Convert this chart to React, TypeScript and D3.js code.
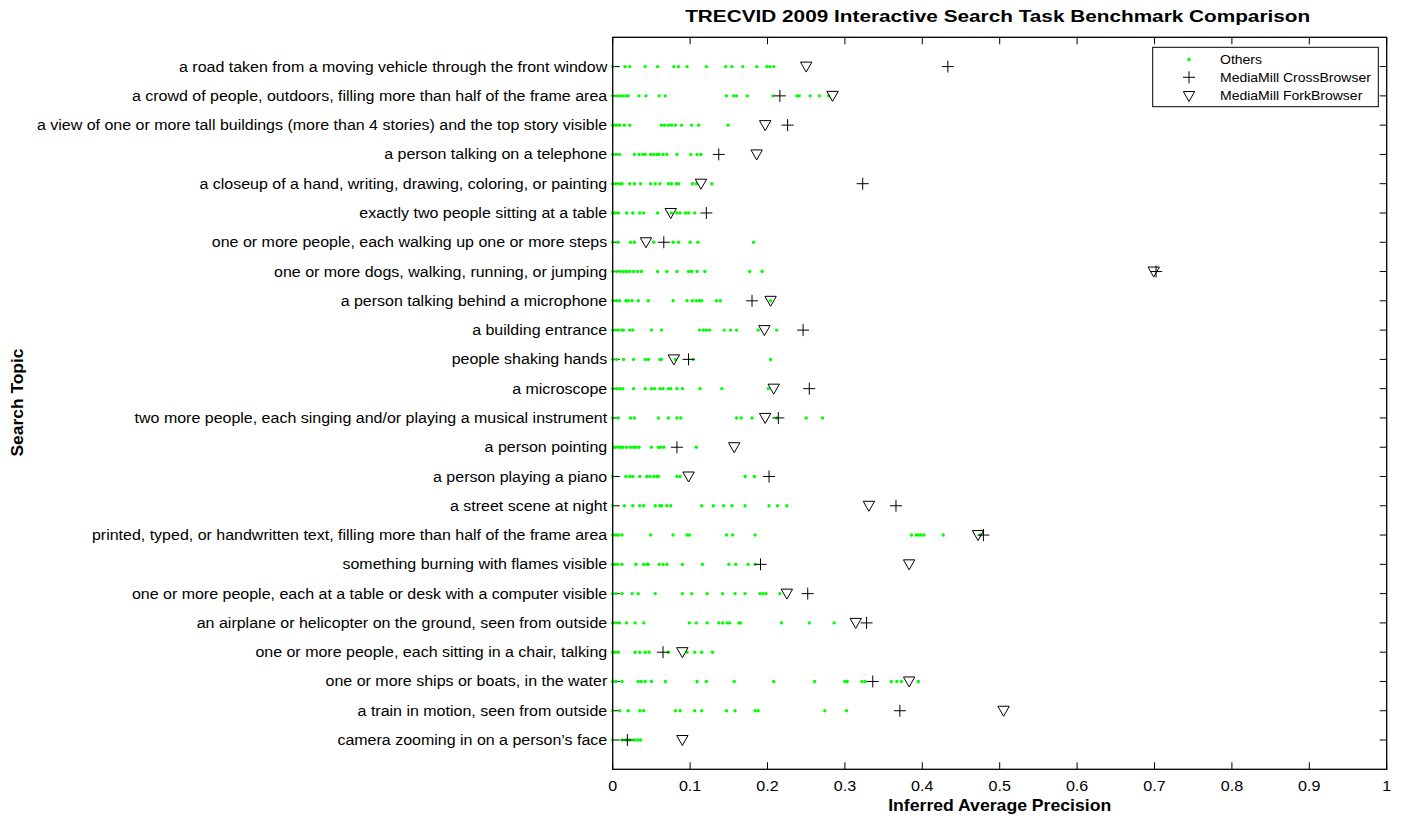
import * as d3 from 'd3';
import React from 'react';

// search topics, top to bottom
const topics = [
  'a road taken from a moving vehicle through the front window',
  'a crowd of people, outdoors, filling more than half of the frame area',
  'a view of one or more tall buildings (more than 4 stories) and the top story visible',
  'a person talking on a telephone',
  'a closeup of a hand, writing, drawing, coloring, or painting',
  'exactly two people sitting at a table',
  'one or more people, each walking up one or more steps',
  'one or more dogs, walking, running, or jumping',
  'a person talking behind a microphone',
  'a building entrance',
  'people shaking hands',
  'a microscope',
  'two more people, each singing and/or playing a musical instrument',
  'a person pointing',
  'a person playing a piano',
  'a street scene at night',
  'printed, typed, or handwritten text, filling more than half of the frame area',
  'something burning with flames visible',
  'one or more people, each at a table or desk with a computer visible',
  'an airplane or helicopter on the ground, seen from outside',
  'one or more people, each sitting in a chair, talking',
  'one or more ships or boats, in the water',
  'a train in motion, seen from outside',
  "camera zooming in on a person\u2019s face",
];

// inferred AP of the other runs, per topic
const others = [
  [0, 0.016, 0.022, 0.042, 0.058, 0.079, 0.085, 0.096, 0.121, 0.146, 0.154, 0.168, 0.186, 0.199, 0.203, 0.208],
  [0, 0.005, 0.009, 0.013, 0.017, 0.02, 0.034, 0.043, 0.06, 0.068, 0.147, 0.156, 0.16, 0.174, 0.207, 0.238, 0.241, 0.255, 0.267, 0.279],
  [0, 0.003, 0.006, 0.009, 0.015, 0.022, 0.063, 0.067, 0.072, 0.076, 0.081, 0.089, 0.102, 0.111, 0.149],
  [0, 0.004, 0.009, 0.028, 0.034, 0.039, 0.042, 0.049, 0.053, 0.057, 0.06, 0.065, 0.07, 0.083, 0.101, 0.109, 0.114],
  [0, 0.004, 0.009, 0.012, 0.022, 0.028, 0.036, 0.049, 0.055, 0.061, 0.072, 0.076, 0.082, 0.085, 0.103, 0.108, 0.128],
  [0, 0.003, 0.007, 0.018, 0.026, 0.035, 0.04, 0.058, 0.076, 0.083, 0.087, 0.094, 0.098, 0.106],
  [0, 0.007, 0.023, 0.028, 0.053, 0.078, 0.085, 0.1, 0.11, 0.182],
  [0, 0.005, 0.01, 0.014, 0.018, 0.022, 0.027, 0.032, 0.037, 0.058, 0.07, 0.083, 0.098, 0.102, 0.109, 0.119, 0.177, 0.193],
  [0, 0.005, 0.009, 0.017, 0.02, 0.025, 0.033, 0.046, 0.078, 0.096, 0.103, 0.108, 0.112, 0.115, 0.134, 0.139, 0.204],
  [0, 0.003, 0.007, 0.012, 0.014, 0.022, 0.026, 0.05, 0.063, 0.112, 0.117, 0.121, 0.125, 0.144, 0.152, 0.16, 0.188, 0.212],
  [0, 0.005, 0.014, 0.027, 0.042, 0.046, 0.061, 0.063, 0.081, 0.104, 0.204],
  [0, 0.005, 0.009, 0.013, 0.027, 0.042, 0.05, 0.054, 0.061, 0.065, 0.072, 0.075, 0.083, 0.09, 0.113, 0.141, 0.201],
  [0, 0.007, 0.023, 0.028, 0.059, 0.072, 0.083, 0.088, 0.16, 0.166, 0.18, 0.212, 0.25, 0.271],
  [0.001, 0.003, 0.007, 0.01, 0.013, 0.018, 0.023, 0.027, 0.03, 0.034, 0.05, 0.059, 0.062, 0.066, 0.108],
  [0, 0.017, 0.022, 0.026, 0.035, 0.044, 0.048, 0.053, 0.057, 0.059, 0.083, 0.087, 0.171, 0.183],
  [0, 0.015, 0.026, 0.035, 0.04, 0.055, 0.061, 0.063, 0.07, 0.075, 0.115, 0.13, 0.143, 0.154, 0.171, 0.202, 0.213, 0.225],
  [0, 0.004, 0.007, 0.012, 0.049, 0.078, 0.096, 0.099, 0.147, 0.155, 0.184, 0.386, 0.392, 0.395, 0.398, 0.402, 0.427, 0.475],
  [0, 0.003, 0.006, 0.012, 0.03, 0.04, 0.044, 0.046, 0.06, 0.065, 0.07, 0.09, 0.116, 0.15, 0.159, 0.175, 0.184],
  [0, 0.004, 0.012, 0.025, 0.033, 0.055, 0.09, 0.102, 0.122, 0.142, 0.158, 0.171, 0.19, 0.194, 0.198, 0.216],
  [0, 0.004, 0.009, 0.018, 0.029, 0.04, 0.099, 0.108, 0.122, 0.137, 0.142, 0.148, 0.151, 0.163, 0.165, 0.218, 0.254, 0.286],
  [0, 0.003, 0.007, 0.029, 0.035, 0.042, 0.047, 0.072, 0.096, 0.106, 0.115, 0.129],
  [0, 0.004, 0.012, 0.033, 0.037, 0.042, 0.05, 0.068, 0.109, 0.121, 0.157, 0.208, 0.261, 0.3, 0.303, 0.322, 0.326, 0.36, 0.367, 0.373, 0.395],
  [0, 0.009, 0.02, 0.035, 0.04, 0.081, 0.087, 0.106, 0.115, 0.147, 0.158, 0.184, 0.188, 0.274, 0.302],
  [0, 0.012, 0.017, 0.022, 0.028, 0.032, 0.036],
];

const crossBrowser = [0.433, 0.216, 0.226, 0.137, 0.323, 0.121, 0.066, 0.702, 0.18, 0.246, 0.098, 0.254, 0.214, 0.083, 0.202, 0.366, 0.479, 0.191, 0.252, 0.328, 0.065, 0.336, 0.371, 0.019];
const forkBrowser = [0.25, 0.284, 0.197, 0.186, 0.114, 0.075, 0.043, 0.699, 0.204, 0.196, 0.079, 0.208, 0.197, 0.157, 0.098, 0.331, 0.472, 0.383, 0.225, 0.314, 0.09, 0.383, 0.505, 0.09];

const xTicks = [0, 0.1, 0.2, 0.3, 0.4, 0.5, 0.6, 0.7, 0.8, 0.9, 1];

const W = 1404;
const H = 816;
const margin = { top: 37.3, right: 17.3, bottom: 46.7, left: 612.7 };
const font = '"Liberation Sans", Arial, Helvetica, sans-serif';
// the reference renders its text wider than Liberation Sans at the same height
const sx = 1.15;

const Cross = ({ x, y }: { x: number; y: number }) => (
  <path d={`M${x - 6},${y}H${x + 6}M${x},${y - 6}V${y + 6}`} stroke="#000" strokeWidth={1} fill="none" />
);

const Tri = ({ x, y }: { x: number; y: number }) => (
  <path d={`M${x - 5.7},${y - 4.5}L${x + 5.7},${y - 4.5}L${x},${y + 5.5}Z`} stroke="#000" strokeWidth={1} fill="none" />
);

export default function App() {
  const x = d3.scaleLinear().domain([0, 1]).range([margin.left, W - margin.right]);
  const y = d3.scaleLinear().domain([0, topics.length + 1]).range([margin.top, H - margin.bottom]);
  const x0 = x(0), x1 = x(1), y0 = y(0), y1 = y(topics.length + 1);
  const tl = 7;

  return (
    <svg width={W} height={H} style={{ position: 'absolute', left: 0, top: 0, background: '#fff' }} fontFamily={font}>
      <rect width={W} height={H} fill="#fff" />
      {/* title */}
      <text x={(x0 + x1) / 2 - 2} y={22} textAnchor="middle" fontSize={16.8} fontWeight="bold"
        textLength={625} lengthAdjust="spacingAndGlyphs">
        TRECVID 2009 Interactive Search Task Benchmark Comparison
      </text>

      {/* x ticks */}
      {xTicks.map(t => (
        <g key={'xt' + t}>
          <line x1={x(t)} x2={x(t)} y1={y1} y2={y1 - tl} stroke="#000" />
          <line x1={x(t)} x2={x(t)} y1={y0} y2={y0 + tl} stroke="#000" />
          <text transform={`translate(${x(t)},790.5) scale(${sx},1)`} textAnchor="middle" fontSize={14}>{String(t)}</text>
        </g>
      ))}

      {/* y ticks and topic labels */}
      {topics.map((d, i) => (
        <g key={'yt' + i}>
          <line x1={x0} x2={x0 + tl} y1={y(i + 1)} y2={y(i + 1)} stroke="#000" />
          <line x1={x1} x2={x1 - tl} y1={y(i + 1)} y2={y(i + 1)} stroke="#000" />
          <text transform={`translate(${x0 - 5.5},${y(i + 1) + 5}) scale(1.143,1)`} textAnchor="end" fontSize={14}>{d}</text>
        </g>
      ))}

      {/* others */}
      {others.map((row, i) =>
        row.map((v, j) => <circle key={`o${i}-${j}`} cx={x(v)} cy={y(i + 1)} r={1.7} fill="#00ff00" />)
      )}
      {crossBrowser.map((v, i) => <Cross key={'c' + i} x={x(v)} y={y(i + 1)} />)}
      {forkBrowser.map((v, i) => <Tri key={'f' + i} x={x(v)} y={y(i + 1)} />)}

      {/* axes box */}
      <rect x={x0} y={y0} width={x1 - x0} height={y1 - y0} fill="none" stroke="#000" strokeWidth={1.3} />

      {/* axis labels */}
      <text x={(x0 + x1) / 2} y={810.5} textAnchor="middle" fontSize={17} fontWeight="bold"
        textLength={223} lengthAdjust="spacingAndGlyphs">Inferred Average Precision</text>
      <text transform={`translate(22.7,402.5) rotate(-90)`} textAnchor="middle" fontSize={16} fontWeight="bold"
        textLength={108} lengthAdjust="spacingAndGlyphs">Search Topic</text>

      {/* legend */}
      <g>
        <rect x={1152.7} y={47.3} width={225.6} height={59.4} fill="#fff" stroke="#000" strokeWidth={1} />
        <circle cx={1189} cy={59.5} r={1.7} fill="#00ff00" />
        <text transform={`translate(1220,64.3) scale(1.12,1)`} fontSize={12.5}>Others</text>
        <Cross x={1189} y={77.3} />
        <text transform={`translate(1220,81.7) scale(1.12,1)`} fontSize={12.5}>MediaMill CrossBrowser</text>
        <Tri x={1189} y={96} />
        <text transform={`translate(1220,100) scale(1.12,1)`} fontSize={12.5}>MediaMill ForkBrowser</text>
      </g>
    </svg>
  );
}
